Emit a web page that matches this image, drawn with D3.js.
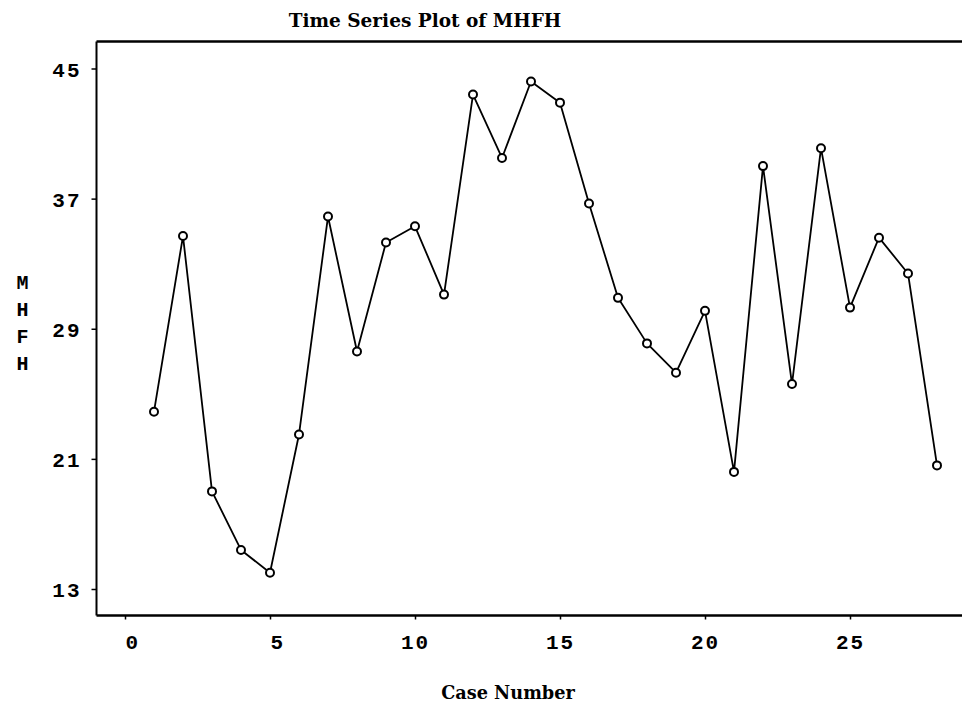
<!DOCTYPE html>
<html>
<head>
<meta charset="utf-8">
<script src="https://cdn.jsdelivr.net/npm/d3@7"></script>
<style>
  html, body { margin: 0; padding: 0; background: #fff; }
  svg { display: block; }
</style>
</head>
<body>
<script>
// MHFH readings by case number
const caseNumbers = [1, 2, 3, 4, 5, 6, 7, 8, 9, 10, 11, 12, 13, 14,
                     15, 16, 17, 18, 19, 20, 21, 22, 23, 24, 25, 26, 27, 28];
const mhfh = [23.9, 34.7, 19.0, 15.4, 14.0, 22.5, 35.9, 27.6, 34.3, 35.3,
              31.1, 43.4, 39.5, 44.2, 42.9, 36.7, 30.9, 28.1, 26.3, 30.1,
              20.2, 39.0, 25.6, 40.1, 30.3, 34.6, 32.4, 20.6];
const xTicks = [0, 5, 10, 15, 20, 25];
const yTicks = [13, 21, 29, 37, 45];

const W = 962, H = 711;
const plot = { left: 96.5, right: 962, top: 41.5, bottom: 615.5 };

const svg = d3.select("body").append("svg")
  .attr("width", W).attr("height", H);

const x = d3.scaleLinear().domain([0, 28]).range([125, 937]);
const y = d3.scaleLinear().domain([13, 45]).range([589, 68.5]);

const monoFont = "'Liberation Mono', 'DejaVu Sans Mono', monospace";
const serifFont = "'DejaVu Serif', 'Liberation Serif', serif";

// Frame: top edge
svg.append("line")
  .attr("x1", plot.left).attr("x2", plot.right)
  .attr("y1", plot.top).attr("y2", plot.top)
  .attr("stroke", "#000").attr("stroke-width", 2.5);

// Left axis
const yAxis = d3.axisLeft(y).tickValues(yTicks).tickSize(5).tickPadding(10)
  .tickFormat(d3.format("d"));
const gy = svg.append("g").attr("transform", `translate(${plot.left},0)`).call(yAxis);
gy.select(".domain").remove();
gy.append("line")
  .attr("x1", 0).attr("x2", 0).attr("y1", plot.top).attr("y2", plot.bottom)
  .attr("stroke", "#000").attr("stroke-width", 2);
gy.selectAll(".tick line").attr("stroke", "#000").attr("stroke-width", 1.5);
gy.selectAll(".tick text")
  .attr("font-family", monoFont).attr("font-size", 21).attr("font-weight", "bold")
  .attr("letter-spacing", 2)
  .attr("fill", "#000").attr("dy", "0.36em");

// Bottom axis; single-digit labels sit right-aligned in a two-character field
const charW = 21 * 0.6 + 2;
const xAxis = d3.axisBottom(x).tickValues(xTicks).tickSize(4).tickPadding(15)
  .tickFormat(d3.format("d"));
const gx = svg.append("g").attr("transform", `translate(0,${plot.bottom})`).call(xAxis);
gx.select(".domain").remove();
gx.append("line")
  .attr("x1", plot.left).attr("x2", plot.right).attr("y1", 0).attr("y2", 0)
  .attr("stroke", "#000").attr("stroke-width", 2.5);
gx.selectAll(".tick line").attr("stroke", "#000").attr("stroke-width", 1.5);
gx.selectAll(".tick text")
  .attr("font-family", monoFont).attr("font-size", 21).attr("font-weight", "bold")
  .attr("letter-spacing", 2)
  .attr("fill", "#000")
  .attr("text-anchor", "end")
  .attr("dx", charW);

// Series line
const line = d3.line()
  .x((d, i) => x(caseNumbers[i]))
  .y(d => y(d));
svg.append("path")
  .datum(mhfh)
  .attr("d", line)
  .attr("fill", "none")
  .attr("stroke", "#000")
  .attr("stroke-width", 1.8)
  .attr("stroke-linejoin", "round");

// Open circle markers
svg.append("g").selectAll("circle")
  .data(mhfh)
  .join("circle")
  .attr("cx", (d, i) => x(caseNumbers[i]))
  .attr("cy", d => y(d))
  .attr("r", 4)
  .attr("fill", "#fff")
  .attr("stroke", "#000")
  .attr("stroke-width", 2);

// Title
svg.append("text")
  .attr("x", 425).attr("y", 27)
  .attr("text-anchor", "middle")
  .attr("font-family", serifFont).attr("font-size", 18.5).attr("font-weight", "bold")
  .text("Time Series Plot of MHFH");

// X axis title
svg.append("text")
  .attr("x", 508).attr("y", 699)
  .attr("text-anchor", "middle")
  .attr("font-family", serifFont).attr("font-size", 17.7).attr("font-weight", "bold")
  .text("Case Number");

// Y axis title, stacked letters
const yLabel = "MHFH".split("");
svg.append("g").selectAll("text")
  .data(yLabel)
  .join("text")
  .attr("x", 22.5)
  .attr("y", (d, i) => 289 + i * 27)
  .attr("text-anchor", "middle")
  .attr("font-family", monoFont).attr("font-size", 20).attr("font-weight", "bold")
  .text(d => d);
</script>
</body>
</html>
